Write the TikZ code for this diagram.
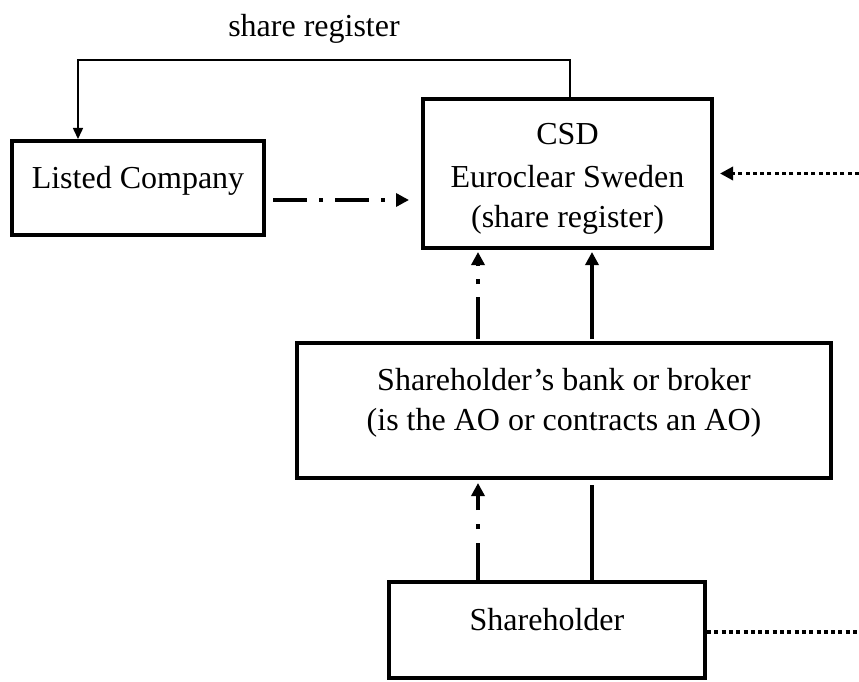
\documentclass[tikz,border=0pt]{standalone}
\usepackage{fontspec}
\setmainfont{Liberation Serif}
\usetikzlibrary{arrows.meta}
\begin{document}
\begin{tikzpicture}[x=1pt,y=-1pt,
  box/.style={draw=black, line width=4pt, inner sep=0pt},
  txt/.style={font=\fontsize{32}{40}\selectfont, inner sep=0pt, anchor=base},
  bigtip/.style={-{Triangle[length=13pt,width=13pt]}},
  smalltip/.style={-{Triangle[length=11pt,width=10pt]}},
  dashdot/.style={line width=4pt, dash pattern=on 34pt off 12pt on 4pt off 12pt},
  dotline/.style={line width=3.5pt, dash pattern=on 4pt off 3.3pt},
  solidline/.style={line width=3.5pt},
  thinline/.style={line width=1.5pt}]
\useasboundingbox (0,0) rectangle (859,682);

% boxes
\node[box, minimum width=252pt, minimum height=94pt] (lc) at (138,188) {};
\node[box, minimum width=289pt, minimum height=149pt] (csd) at (567.5,173.5) {};
\node[box, minimum width=534pt, minimum height=135pt] (bank) at (564,410.5) {};
\node[box, minimum width=316pt, minimum height=96pt] (sh) at (547,630) {};

% texts
\node[txt] (tsr) at (314,37) {share register};
\node[txt] (tlc) at (138,188) {Listed Company};
\node[txt] (tcsd1) at (567.5,145) {CSD};
\node[txt] (tcsd2) at (567.5,187) {Euroclear Sweden};
\node[txt] (tcsd3) at (567.5,227) {(share register)};
\node[txt] (tbank1) at (564,390) {Shareholder’s bank or broker};
\node[txt] (tbank2) at (564,430) {(is the AO or contracts an AO)};
\node[txt] (tsh) at (547,630) {Shareholder};

% free ends
\coordinate (rt1) at (859,173.5);
\coordinate (rt2) at (859,632);

% share register loop
\draw[thinline, smalltip] ([xshift=2.5pt]csd.north) -- ++(0,-37) -| ([xshift=-60pt]lc.north);

% listed company -> CSD
\draw[dashdot, bigtip, shorten <=7pt, shorten >=12pt]
  ([yshift=-12pt]lc.east) -- ([yshift=-12pt]lc.east -| csd.west);

% right dotted into CSD
\draw[dotline, bigtip, shorten >=6pt] (rt1) -- (csd.east);

% bank -> CSD
\draw[line width=4pt, dash pattern=on 42pt off 13pt on 5pt off 13pt, bigtip, shorten <=2pt, shorten >=2pt]
  ([xshift=-86pt]bank.north) -- ([xshift=-86pt]bank.north |- csd.south);
\draw[solidline, bigtip, shorten <=2pt, shorten >=2pt]
  ([xshift=28pt]bank.north) -- ([xshift=28pt]bank.north |- csd.south);

% shareholder -> bank
\draw[line width=4pt, dash pattern=on 37pt off 14pt on 5pt off 14pt, bigtip, shorten >=3pt]
  ([xshift=-69pt]sh.north) -- ([xshift=-69pt]sh.north |- bank.south);
\draw[solidline, shorten >=5pt]
  ([xshift=45pt]sh.north) -- ([xshift=45pt]sh.north |- bank.south);

% right dotted from shareholder
\draw[dotline] (sh.east |- rt2) -- (rt2);
\end{tikzpicture}
\end{document}
